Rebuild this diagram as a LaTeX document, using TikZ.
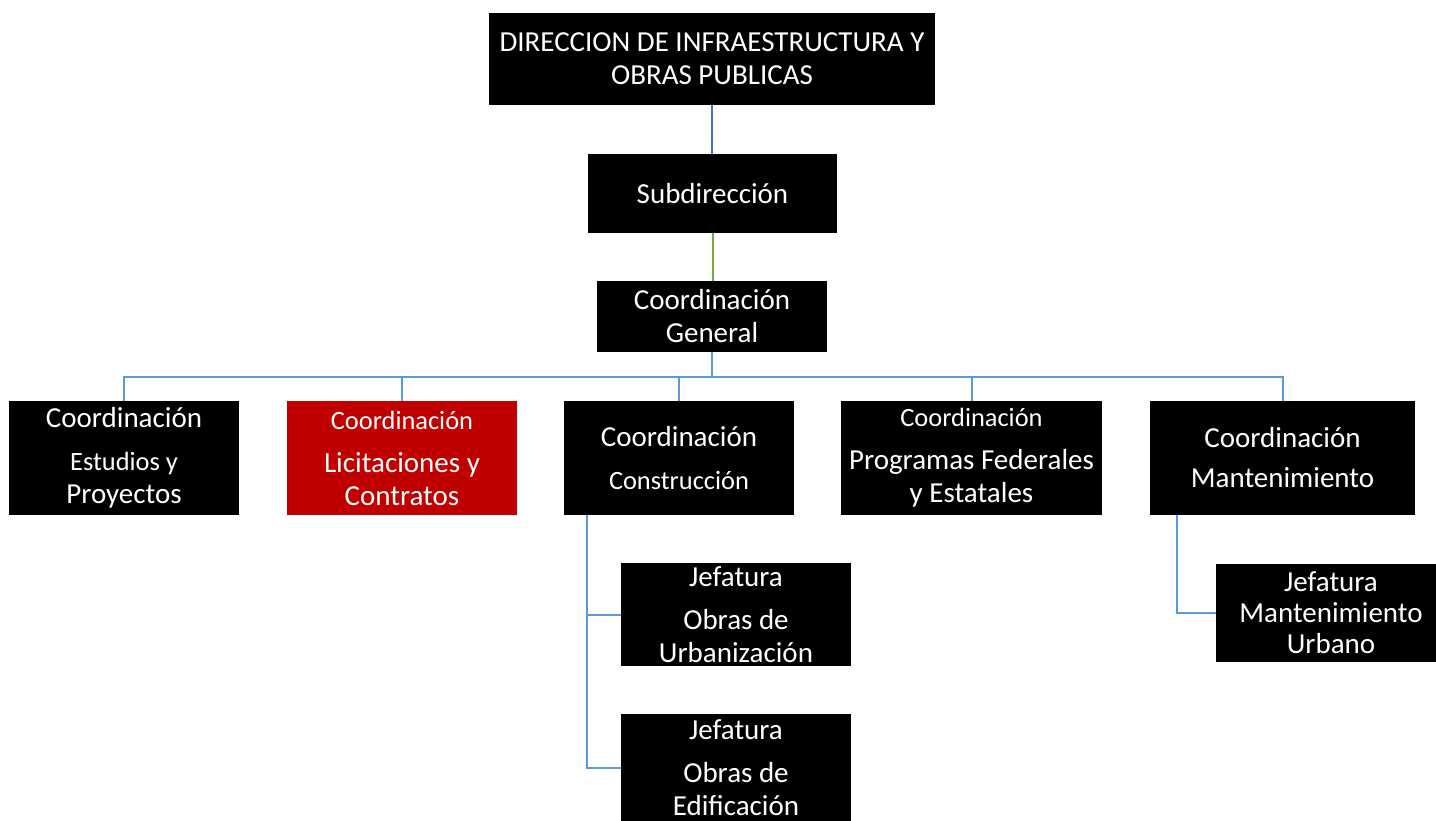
\documentclass[tikz,border=0pt]{standalone}
\usepackage{fontspec}
\setmainfont{Carlito}
\newcommand{\lgfont}{\fontsize{14.5}{16.5}\selectfont}
\newcommand{\smfont}{\fontsize{13.2}{16.5}\selectfont}
\definecolor{dirblue}{HTML}{4472C4}
\definecolor{subgreen}{HTML}{70AD47}
\definecolor{linkblue}{HTML}{5B9BD5}
\definecolor{licred}{HTML}{C00000}

\tikzset{
  orgbox/.style={fill=black, text=white, inner sep=0pt, align=center, font=\lgfont, minimum width=115pt, minimum height=57pt},
  orgred/.style={orgbox, fill=licred},
  jefbox/.style={orgbox, minimum height=51.5pt},
  dirlink/.style={draw=dirblue, line width=1pt},
  sublink/.style={draw=subgreen, line width=1pt},
  orglink/.style={draw=linkblue, line width=1pt}
}

\begin{document}
\begin{tikzpicture}[x=0.5pt,y=-0.5pt]
        \useasboundingbox (0,0) rectangle (1436,820);
        \clip (0,0) rectangle (1436,820);

        % direccion y subdireccion
        \node[orgbox, minimum width=223pt, minimum height=46pt] (dir) at (712,59) {DIRECCION DE INFRAESTRUCTURA Y\\OBRAS PUBLICAS};
        \node[orgbox, minimum width=124.5pt, minimum height=39.5pt] (sub) at (712.5,193.5) {Subdirección};
        \node[orgbox, minimum height=35.5pt] (cgen) at (712,316.5) {Coordinación\\General};

        % coordinaciones
        \node[orgbox] (c1) at (124,458) {Coordinación\\[5pt]{\smfont Estudios y}\\Proyectos};
        \node[orgred] (c2) at (402,458) {{\smfont Coordinación}\\[5pt]Licitaciones y\\Contratos};
        \node[orgbox] (c3) at (679,458) {Coordinación\\[5pt]{\smfont Construcción}};
        \node[orgbox, minimum width=130.5pt] (c4) at (971.5,458) {{\smfont Coordinación}\\[5pt]Programas Federales\\y Estatales};
        \node[orgbox, minimum width=132.5pt] (c5) at (1282.5,458) {Coordinación\\[3.5pt]Mantenimiento};

        % jefaturas
        \node[jefbox] (j1) at (736,614.5) {Jefatura\\[5pt]Obras de\\Urbanización};
        \node[jefbox, minimum height=54pt] (j2) at (736,768) {Jefatura\\[5pt]Obras de\\Edificación};
        \node[jefbox, minimum height=49pt, font=\fontsize{14.5}{15.5}\selectfont] (j3) at (1331,613) {Jefatura\\Mantenimiento\\Urbano};

        % conectores
        \draw[dirlink] (dir.south) -- (dir.south |- sub.north);
        \draw[sublink] (sub.south) -- (sub.south |- cgen.north);
        \coordinate (bus) at (712,376.5);
        \foreach \c in {c1,c2,c3,c4,c5}
            \draw[orglink] (cgen.south) -- (bus) -| (\c.north);

        \draw[orglink] ([xshift=11.5pt]c3.south west) |- (j1.west);
        \draw[orglink] ([xshift=11.5pt]c3.south west) |- (j2.west);
        \draw[orglink] ([xshift=13.5pt]c5.south west) |- (j3.west);
    \end{tikzpicture}
\end{document}
